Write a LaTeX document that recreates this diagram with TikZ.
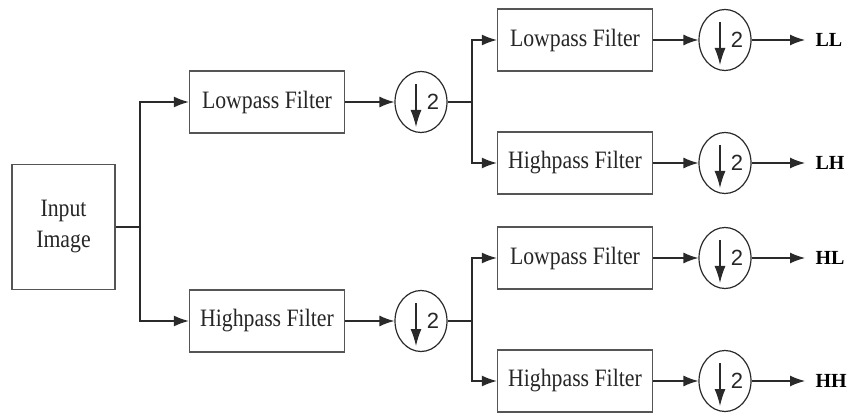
\documentclass[tikz,border=0pt]{standalone}
\usepackage{fontspec}
\setmainfont{Liberation Serif}[FakeStretch=0.87]
\newfontfamily\labfont{Liberation Serif}
\newfontfamily\digfont{Liberation Sans}
\usepackage{tikz}
\usetikzlibrary{positioning, arrows.meta, shapes.geometric}
\definecolor{boxgray}{HTML}{555555}
\definecolor{linegray}{HTML}{2A2A2A}
\tikzstyle{int}=[draw=boxgray, line width=1.4pt, minimum width=103pt, minimum height=125pt, align=center, text=black!85, font=\fontsize{25}{31}\selectfont]
\tikzstyle{filt}=[draw=boxgray, line width=1.4pt, minimum width=155pt, minimum height=62pt, inner sep=0pt, text=black!85, font=\fontsize{25}{31}\selectfont]
\tikzstyle{down}=[draw=linegray, line width=1.2pt, ellipse, minimum width=52pt, minimum height=61pt, inner sep=0pt,
  path picture={
    \draw[line width=1.2pt, -{Latex[length=17pt,width=11pt]}]
      ([xshift=-5pt,yshift=18pt]path picture bounding box.center) --
      ([xshift=-5pt,yshift=-25pt]path picture bounding box.center);
    \node[font=\digfont\fontsize{22}{22}\selectfont, text=black!85] at ([xshift=12pt]path picture bounding box.center) {2};
  }]
\tikzstyle{lab}=[anchor=west, inner xsep=10pt, inner ysep=0pt, font=\labfont\bfseries\fontsize{20}{20}\selectfont]

\begin{document}
\begin{tikzpicture}[x=1pt,y=-1pt,node distance=154pt,>={Latex[length=15pt,width=11pt]},
  line width=1.3pt, draw=linegray]
      \useasboundingbox (0,0) rectangle (849,414);
      \node [int] (in) at (63.5,227) {Input\\Image};
      \coordinate [right of=in, node distance=76.5pt] (j1);
      \node [filt] (lp1) at (267,102) {Lowpass Filter};
      \node [filt] (hp1) at (267,321) {Highpass Filter};
      \node [down] (d1) [right of=lp1] {};
      \node [down] (d2) [right of=hp1] {};
      \coordinate [right of=d1, node distance=51pt] (j2);
      \coordinate [right of=d2, node distance=51pt] (j3);
      \draw (in) -- (j1);
      \draw[->] (j1) |- (lp1);
      \draw[->] (j1) |- (hp1);
      \path[->] (lp1) edge node {} (d1);
      \path[->] (hp1) edge node {} (d2);
      \draw (d1) -- (j2);
      \draw (d2) -- (j3);

      % second level
      \node [filt] (ll) at (575,40) {Lowpass Filter};
      \node [filt] (lh) at (575,163) {Highpass Filter};
      \node [filt] (hl) at (575,258) {Lowpass Filter};
      \node [filt] (hh) at (575,381) {Highpass Filter};
      \draw[->] (j2) |- (ll);
      \draw[->] (j2) |- (lh);
      \draw[->] (j3) |- (hl);
      \draw[->] (j3) |- (hh);
      \foreach \f/\t in {ll/LL, lh/LH, hl/HL, hh/HH} {
        \node [down] (d\f) [right of=\f, node distance=150pt] {};
        \node [lab] (o\f) [right of=d\f, node distance=80pt, anchor=west] {\t};
        \path[->] (\f) edge node {} (d\f);
        \path[->] (d\f) edge node {} (o\f);
      }
  \end{tikzpicture}
\end{document}
